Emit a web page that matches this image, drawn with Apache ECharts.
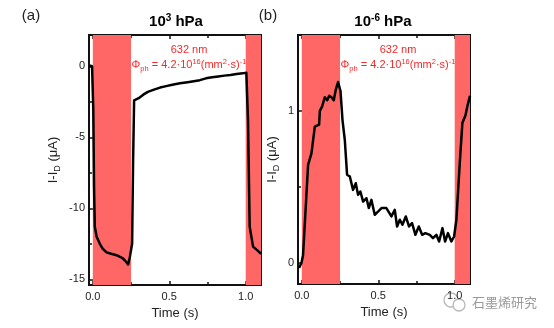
<!DOCTYPE html>
<html>
<head>
<meta charset="utf-8">
<script src="https://cdn.jsdelivr.net/npm/echarts@6/dist/echarts.min.js"></script>
<style>
  html, body { margin: 0; padding: 0; background: #fff; }
  #chart { width: 554px; height: 328px; }
</style>
</head>
<body>
<div id="chart"></div>
<script>
// Photocurrent transients under 632 nm illumination, two pressures
const timeA = [-0.022, -0.005, 0.003, 0.008, 0.013, 0.025, 0.046, 0.065, 0.09, 0.12, 0.155, 0.194, 0.209, 0.222, 0.231, 0.242, 0.257, 0.263, 0.27, 0.28, 0.3, 0.31, 0.33, 0.36, 0.4, 0.44, 0.48, 0.52, 0.57, 0.62, 0.66, 0.7, 0.74, 0.78, 0.82, 0.86, 0.9, 0.94, 0.98, 1.004, 1.015, 1.026, 1.048, 1.08, 1.1];
const currentA = [0.05, 0.0, -3.0, -8.5, -11.3, -12.0, -12.5, -12.85, -13.1, -13.2, -13.3, -13.5, -13.66, -13.8, -13.95, -13.44, -12.5, -7.0, -2.4, -2.3, -2.25, -2.15, -2.0, -1.8, -1.65, -1.5, -1.4, -1.3, -1.2, -1.12, -1.05, -0.98, -0.85, -0.78, -0.72, -0.66, -0.62, -0.55, -0.5, -0.45, -3.8, -11.3, -12.7, -13.0, -13.2];

const timeB = [-0.018, -0.002, 0.008, 0.041, 0.063, 0.085, 0.113, 0.118, 0.133, 0.15, 0.166, 0.179, 0.194, 0.209, 0.222, 0.237, 0.253, 0.266, 0.281, 0.296, 0.314, 0.335, 0.353, 0.368, 0.383, 0.401, 0.423, 0.438, 0.455, 0.477, 0.5, 0.521, 0.553, 0.586, 0.608, 0.623, 0.641, 0.658, 0.68, 0.701, 0.721, 0.743, 0.765, 0.787, 0.808, 0.837, 0.858, 0.88, 0.898, 0.92, 0.937, 0.956, 0.978, 0.996, 1.011, 1.033, 1.05, 1.07, 1.085, 1.1];
const currentB = [-0.035, 0.0, 0.05, 0.645, 0.72, 0.897, 0.91, 1.0, 1.03, 1.09, 1.07, 1.1, 1.09, 1.07, 1.14, 1.19, 1.13, 0.94, 0.81, 0.58, 0.568, 0.48, 0.524, 0.447, 0.469, 0.403, 0.425, 0.36, 0.414, 0.316, 0.338, 0.36, 0.36, 0.305, 0.349, 0.239, 0.283, 0.25, 0.305, 0.239, 0.261, 0.184, 0.239, 0.184, 0.195, 0.184, 0.162, 0.184, 0.14, 0.228, 0.14, 0.195, 0.14, 0.173, 0.283, 0.656, 0.92, 0.97, 1.04, 1.1];

// Tick positions
const timeTicks = [0, 0.5, 1.0];
const timeMinorTicks = [0.25, 0.75];
const currentTicksA = [-15, -10, -5, 0];
const currentMinorTicksA = [-12.5, -7.5, -2.5];
const currentTicksB = [0, 1];
const currentMinorTicksB = [0.5];

// Illumination windows (laser on), in seconds
const lightOnA = [[0, 0.25], [1.0, 1.1]];
const lightOnB = [[0, 0.25], [1.0, 1.1]];

const xRange = [-0.025, 1.1];
const yRangeA = [-15.4, 2.2];
const yRangeB = [-0.14, 1.5];

const FONT = 'Liberation Sans, Arial, sans-serif';
const INK = '#111';
const LIGHT = '#ff6666';
const ANNOT = '#f42a2a';

function pairs(xs, ys) { return xs.map((x, i) => [x, ys[i]]); }

function makeAxis(kind, grid, pos, range, ticks, tickLen, labels, name, nameGap, fmt) {
  const ax = {
    type: 'value', gridIndex: grid, position: pos,
    min: range[0], max: range[1],
    axisLine: { show: true, onZero: false, lineStyle: { color: INK, width: 2 } },
    axisTick: { show: true, inside: true, length: tickLen, customValues: ticks, lineStyle: { color: INK, width: 1.5 } },
    axisLabel: labels ? {
      show: true, customValues: ticks, color: '#222', fontFamily: FONT, fontSize: 11,
      margin: kind === 'x' ? 6 : 4, formatter: fmt
    } : { show: false },
    splitLine: { show: false }
  };
  if (name) {
    ax.name = name;
    ax.nameLocation = 'middle';
    ax.nameGap = nameGap;
    ax.nameTextStyle = {
      color: '#222', fontFamily: FONT, fontSize: 13,
      rich: {
        sub: { fontFamily: FONT, fontSize: 9, color: '#222', verticalAlign: 'bottom', lineHeight: 9 },
        n: { fontFamily: FONT, fontSize: 13, color: '#222', lineHeight: 17 }
      }
    };
  }
  return ax;
}

const fmtX = v => v.toFixed(1);
const fmtY = v => String(v);

const xAxes = [];
const yAxes = [];
[0, 1].forEach(g => {
  xAxes.push(makeAxis('x', g, 'bottom', xRange, timeTicks, 4, true, 'Time (s)', 22, fmtX));
  xAxes.push(makeAxis('x', g, 'bottom', xRange, timeMinorTicks, 3, false));
  xAxes.push(makeAxis('x', g, 'top', xRange, timeTicks, 4, false));
  xAxes.push(makeAxis('x', g, 'top', xRange, timeMinorTicks, 3, false));
});
const yMajor = [currentTicksA, currentTicksB];
const yMinor = [currentMinorTicksA, currentMinorTicksB];
const yRanges = [yRangeA, yRangeB];
const yGaps = [27, 17];
[0, 1].forEach(g => {
  yAxes.push(makeAxis('y', g, 'left', yRanges[g], yMajor[g], 4, true, '{n|I-I}{sub|D}{n| (μA)}', yGaps[g], fmtY));
  yAxes.push(makeAxis('y', g, 'left', yRanges[g], yMinor[g], 3, false));
  yAxes.push(makeAxis('y', g, 'right', yRanges[g], yMajor[g], 4, false));
  yAxes.push(makeAxis('y', g, 'right', yRanges[g], yMinor[g], 3, false));
});

function lightSeries(g, windows) {
  return {
    type: 'line', xAxisIndex: g * 4, yAxisIndex: g * 4, data: [], z: 1, silent: true,
    markArea: {
      silent: true,
      itemStyle: { color: LIGHT, opacity: 1 },
      data: windows.map(w => [{ xAxis: w[0] }, { xAxis: w[1] }])
    }
  };
}
function traceSeries(g, xs, ys) {
  return {
    type: 'line', xAxisIndex: g * 4, yAxisIndex: g * 4, z: 3,
    data: pairs(xs, ys), symbol: 'none', animation: false,
    lineStyle: { color: '#000', width: 2.5, join: 'round' }
  };
}

const supRich = {
  n: { fontFamily: FONT, fontSize: 11, fill: ANNOT, lineHeight: 15 },
  sup: { fontFamily: FONT, fontSize: 7.5, fill: ANNOT, verticalAlign: 'top', lineHeight: 9 },
  sub: { fontFamily: FONT, fontSize: 7.5, fill: ANNOT, verticalAlign: 'bottom', lineHeight: 8 }
};
const phiText = '{n|Φ}{sub|ph}{n| = 4.2·10}{sup|16}{n|(mm}{sup|2}{n|·s)}{sup|-1}';

const titleRich = {
  t: { fontFamily: FONT, fontSize: 15, fontWeight: 'bold', fill: '#000', lineHeight: 18 },
  s: { fontFamily: FONT, fontSize: 10, fontWeight: 'bold', fill: '#000', verticalAlign: 'top', lineHeight: 11 }
};

function label(x, y, text, rich, extra) {
  return Object.assign({
    type: 'text', x: x, y: y, silent: true,
    style: { text: text, rich: rich, align: 'center', verticalAlign: 'middle' }
  }, extra || {});
}

const option = {
  animation: false,
  backgroundColor: '#fff',
  grid: [
    { left: 89, top: 35, width: 172, height: 250 },
    { left: 298, top: 35, width: 172, height: 249 }
  ],
  xAxis: xAxes,
  yAxis: yAxes,
  series: [
    lightSeries(0, lightOnA), traceSeries(0, timeA, currentA),
    lightSeries(1, lightOnB), traceSeries(1, timeB, currentB)
  ],
  graphic: [
    { type: 'text', x: 31, y: 16, style: { text: '(a)', font: '15px ' + FONT, fill: '#222', align: 'center', verticalAlign: 'middle' } },
    { type: 'text', x: 268, y: 16, style: { text: '(b)', font: '15px ' + FONT, fill: '#222', align: 'center', verticalAlign: 'middle' } },
    label(176, 22, '{t|10}{s|3}{t| hPa}', titleRich),
    label(383, 22, '{t|10}{s|-6}{t| hPa}', titleRich),
    { type: 'text', x: 189, y: 50, style: { text: '632 nm', font: '11px ' + FONT, fill: ANNOT, align: 'center', verticalAlign: 'middle' } },
    label(189, 65, phiText, supRich),
    { type: 'text', x: 398, y: 50, style: { text: '632 nm', font: '11px ' + FONT, fill: ANNOT, align: 'center', verticalAlign: 'middle' } },
    label(398, 65, phiText, supRich),
    // watermark
    { type: 'circle', shape: { cx: 451, cy: 300, r: 7 }, style: { fill: 'none', stroke: '#b8b8b8', lineWidth: 1.3 } },
    { type: 'circle', shape: { cx: 459, cy: 305, r: 6 }, style: { fill: '#fff', stroke: '#b8b8b8', lineWidth: 1.3 } },
    { type: 'text', x: 472, y: 302, style: { text: '石墨烯研究', font: '13px "Noto Sans CJK SC"', fill: '#9a9a9a', align: 'left', verticalAlign: 'middle' } }
  ]
};

const chart = echarts.init(document.getElementById('chart'), null, { renderer: 'canvas' });
chart.setOption(option);
</script>
</body>
</html>
